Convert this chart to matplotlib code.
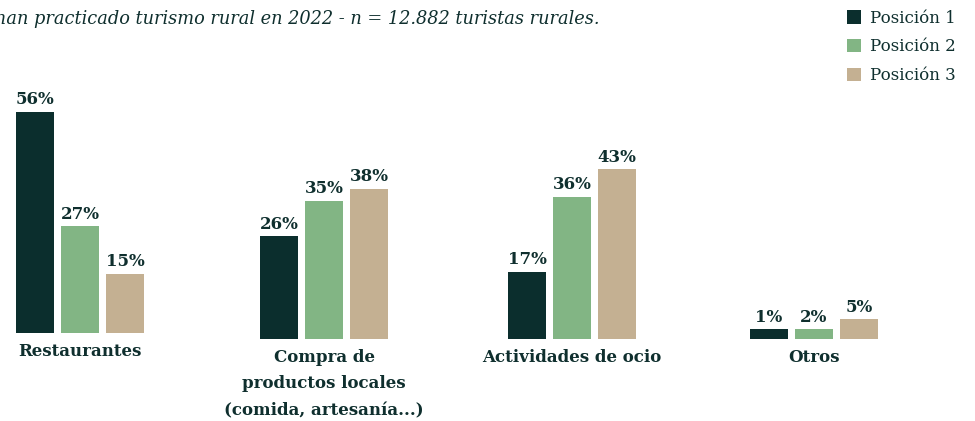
import matplotlib.pyplot as plt
import matplotlib.patches as patches
import numpy as np

# Datos: posición 1, 2 y 3 por categoría
categories = ['Restaurantes',
              'Compra de\nproductos locales\n(comida, artesanía...)',
              'Actividades de ocio',
              'Otros']
pos1 = [56, 26, 17, 1]
pos2 = [27, 35, 36, 2]
pos3 = [15, 38, 43, 5]
series_labels = ['Posición 1', 'Posición 2', 'Posición 3']

colors = ['#0b2e2d', '#82b584', '#c4b092']
text_color = '#0f2f2e'
serif = 'DejaVu Serif'

W, H = 975, 421
fig = plt.figure(figsize=(W / 100, H / 100), dpi=100)
fig.patch.set_facecolor('white')

centers = [80, 324, 572, 814]      # centre de chaque groupe (px)
baselines = [333, 339, 339, 339]   # ligne de base (px depuis le haut)
ax_w, ax_h = 200, 237              # 45 px par unité en x, ~3.95 px par % en y

values = np.array([pos1, pos2, pos3]).T
for i, cat in enumerate(categories):
    left = (centers[i] - ax_w / 2) / W
    bottom = (H - baselines[i]) / H
    ax = fig.add_axes([left, bottom, ax_w / W, ax_h / H])
    ax.set_xlim(-100 / 45, 100 / 45)
    ax.set_ylim(0, 60)
    ax.axis('off')
    for j in range(3):
        v = values[i, j]
        h = max(v, 2.5)  # hauteur minimale visible pour les petites valeurs
        ax.bar(j - 1, h, width=38 / 45, color=colors[j], linewidth=0)
        ax.annotate(f'{v}%', (j - 1, h), xytext=(0, 2.5), textcoords='offset points',
                    ha='center', va='bottom', fontsize=12, fontweight='bold',
                    family=serif, color=text_color)
    ax.annotate(cat, (0, 0), xytext=(0, -7), textcoords='offset points',
                ha='center', va='top', fontsize=12, fontweight='bold',
                family=serif, color=text_color, linespacing=1.75,
                annotation_clip=False)

fig.text(-5 / W, 1 - 10 / H,
         'han practicado turismo rural en 2022 - n = 12.882 turistas rurales.',
         ha='left', va='top', fontsize=12.8, style='italic', family=serif,
         color=text_color)

handles = [patches.Patch(facecolor=c, edgecolor='none') for c in colors]
leg = fig.legend(handles, series_labels, loc='upper left',
                 bbox_to_anchor=(840 / W, 1 - 3 / H), frameon=False,
                 handlelength=0.85, handleheight=0.85, handletextpad=0.55,
                 labelspacing=0.7, borderaxespad=0,
                 prop={'family': serif, 'size': 12})
for t in leg.get_texts():
    t.set_color(text_color)

plt.savefig('out.png', dpi=100, facecolor='white')
